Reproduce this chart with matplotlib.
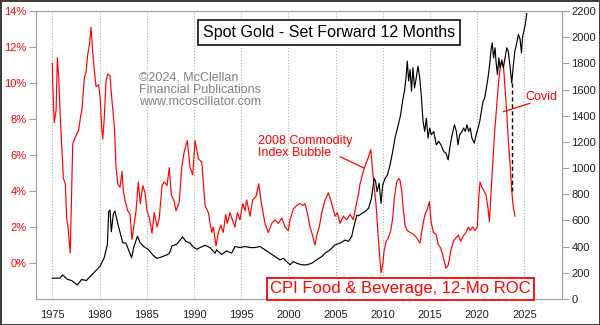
import matplotlib
matplotlib.use("Agg")
import matplotlib.pyplot as plt
import numpy as np

plt.rcParams['font.family'] = ['Liberation Sans', 'DejaVu Sans']

# CPI Food & Beverage, 12-month rate of change (%)
cpi_years = [1975.0, 1975.04, 1975.2, 1975.4, 1975.53, 1975.68, 1975.85, 1976.03, 1976.17, 1976.38,
             1976.52, 1976.66, 1976.9, 1977.0, 1977.16, 1977.44, 1977.8, 1977.97, 1978.15, 1978.4,
             1978.57, 1978.75, 1978.92, 1979.1, 1979.28, 1979.45, 1979.63, 1979.9, 1980.08, 1980.23,
             1980.34, 1980.5, 1980.69, 1980.87, 1981.11, 1981.32, 1981.57, 1981.75, 1981.93, 1982.17,
             1982.38, 1982.52, 1982.73, 1982.99, 1983.23, 1983.44, 1983.62, 1983.87, 1984.11, 1984.32,
             1984.58, 1984.82, 1985.03, 1985.28, 1985.56, 1985.8, 1986.09, 1986.33, 1986.62, 1986.86,
             1987.15, 1987.39, 1987.6, 1987.92, 1988.1, 1988.45, 1988.7, 1988.98, 1989.3, 1989.59,
             1989.87, 1990.12, 1990.47, 1990.83, 1991.18, 1991.53, 1991.88, 1992.06, 1992.34, 1992.59,
             1992.84, 1993.11, 1993.37, 1993.54, 1993.82, 1994.07, 1994.35, 1994.6, 1994.88, 1995.17,
             1995.41, 1995.59, 1995.94, 1996.23, 1996.58, 1996.86, 1997.18, 1997.53, 1997.88, 1998.24,
             1998.59, 1998.94, 1999.3, 1999.65, 2000.0, 2000.18, 2000.53, 2000.89, 2001.24, 2001.53,
             2001.77, 2002.01, 2002.3, 2002.58, 2002.83, 2003.0, 2003.28, 2003.54, 2003.89, 2004.24,
             2004.49, 2004.7, 2004.95, 2005.19, 2005.48, 2005.83, 2006.19, 2006.54, 2006.89, 2007.14,
             2007.42, 2007.6, 2007.95, 2008.23, 2008.47, 2008.73, 2009.0, 2009.29, 2009.53, 2009.82,
             2010.0, 2010.14, 2010.35, 2010.6, 2010.85, 2011.06, 2011.23, 2011.48, 2011.7, 2011.83,
             2012.01, 2012.18, 2012.36, 2012.6, 2012.89, 2013.24, 2013.6, 2013.95, 2014.24, 2014.48,
             2014.73, 2014.94, 2015.12, 2015.36, 2015.65, 2015.89, 2016.14, 2016.42, 2016.7, 2016.95,
             2017.2, 2017.48, 2017.76, 2018.01, 2018.26, 2018.54, 2018.83, 2019.07, 2019.25, 2019.54,
             2019.78, 2020.02, 2020.17, 2020.31, 2020.52, 2020.73, 2020.94, 2021.16, 2021.3, 2021.44,
             2021.65, 2021.86, 2022.08, 2022.25, 2022.43, 2022.61, 2022.78, 2022.96, 2023.14, 2023.31,
             2023.49, 2023.67, 2023.84, 2024.02]
cpi_roc = [11.1, 10.0, 7.8, 8.5, 11.4, 10.3, 8.0, 6.2, 4.7, 4.4,
           2.5, 2.0, 0.55, 2.9, 6.6, 7.0, 7.4, 8.05, 8.6, 10.3,
           10.6, 11.6, 12.1, 13.1, 11.7, 10.7, 9.8, 9.9, 9.1, 7.5,
           6.9, 8.05, 10.1, 10.5, 10.4, 9.0, 7.6, 5.3, 4.4, 4.2,
           5.1, 4.0, 3.4, 2.9, 2.7, 1.3, 2.0, 2.9, 4.5, 3.3,
           4.3, 3.9, 2.9, 2.5, 1.65, 2.8, 2.0, 2.5, 4.3, 4.5,
           4.3, 5.3, 3.8, 3.4, 2.9, 3.4, 5.3, 6.2, 6.8, 5.3,
           4.9, 6.8, 5.8, 5.6, 3.2, 2.8, 1.7, 2.0, 0.95, 1.7,
           2.1, 1.7, 2.7, 2.2, 2.8, 2.4, 2.0, 2.8, 2.4, 3.3,
           2.9, 3.5, 2.6, 3.5, 3.7, 4.4, 3.2, 2.2, 1.7, 2.2,
           2.4, 2.2, 2.5, 2.0, 1.8, 2.4, 3.0, 3.2, 3.3, 3.2,
           3.3, 2.8, 2.0, 1.5, 1.0, 1.5, 2.0, 2.8, 3.5, 3.9,
           3.5, 3.1, 2.6, 2.8, 2.2, 2.6, 2.4, 2.7, 2.4, 3.1,
           3.8, 4.4, 5.1, 5.55, 5.85, 6.3, 4.7, 3.25, 1.4, -0.55,
           -0.1, 0.65, 1.2, 1.4, 1.8, 2.5, 3.6, 4.5, 4.7, 4.6,
           4.0, 3.0, 2.1, 1.8, 1.7, 1.6, 1.4, 1.1, 2.1, 2.7,
           3.0, 3.4, 2.3, 1.7, 1.6, 1.0, 0.85, 0.3, -0.3, -0.1,
           0.65, 1.2, 1.4, 1.55, 1.2, 1.5, 1.7, 2.0, 1.8, 2.0,
           1.8, 2.0, 3.6, 4.5, 4.2, 4.0, 3.8, 3.0, 2.3, 3.6,
           5.5, 7.3, 8.8, 9.9, 10.8, 11.3, 11.0, 9.7, 8.3, 6.8,
           5.5, 4.0, 3.05, 2.6]

# Spot gold ($/oz), shifted forward 12 months
gold_years = [1975.0, 1975.8, 1976.1, 1976.6, 1977.05, 1977.65, 1978.1, 1978.6, 1979.17, 1979.7,
              1980.05, 1980.48, 1980.83, 1980.97, 1981.11, 1981.25, 1981.46, 1981.64, 1981.92, 1982.17,
              1982.46, 1982.8, 1983.16, 1983.4, 1983.6, 1984.02, 1984.3, 1984.7, 1985.17, 1985.6,
              1986.06, 1986.6, 1987.1, 1987.4, 1987.68, 1988.2, 1988.8, 1989.16, 1989.6, 1989.9,
              1990.3, 1990.65, 1991.18, 1991.7, 1992.24, 1992.4, 1992.94, 1993.47, 1994.0, 1994.35,
              1994.88, 1995.41, 1995.94, 1996.47, 1997.0, 1997.53, 1998.06, 1998.59, 1999.12, 1999.47,
              1999.83, 2000.18, 2000.53, 2000.89, 2001.42, 2001.95, 2002.48, 2003.0, 2003.54, 2003.89,
              2004.42, 2004.95, 2005.48, 2006.01, 2006.36, 2006.72, 2006.9, 2007.07, 2007.25, 2007.42,
              2007.8, 2008.1, 2008.5, 2008.8, 2009.1, 2009.25, 2009.4, 2009.62, 2009.82, 2010.0,
              2010.25, 2010.5, 2010.78, 2011.06, 2011.3, 2011.65, 2011.9, 2012.1, 2012.3, 2012.47,
              2012.6, 2012.75, 2012.9, 2013.05, 2013.2, 2013.37, 2013.55, 2013.73, 2013.9, 2014.08,
              2014.27, 2014.45, 2014.62, 2014.8, 2014.97, 2015.15, 2015.4, 2015.68, 2015.93, 2016.17,
              2016.46, 2016.7, 2016.93, 2017.1, 2017.35, 2017.6, 2017.8, 2017.98, 2018.15, 2018.4,
              2018.57, 2018.75, 2018.93, 2019.1, 2019.28, 2019.45, 2019.7, 2019.9, 2020.1, 2020.28,
              2020.45, 2020.63, 2020.8, 2020.98, 2021.15, 2021.33, 2021.5, 2021.6, 2021.75, 2021.9,
              2022.0, 2022.15, 2022.3, 2022.43, 2022.6, 2022.78, 2022.96, 2023.14, 2023.3, 2023.5,
              2023.67, 2023.84, 2024.0, 2024.2, 2024.37, 2024.55, 2024.7, 2024.8, 2024.95, 2025.1,
              2025.26]
gold_price = [159, 159, 184, 150, 141, 107, 149, 141, 184, 222,
              250, 312, 414, 667, 680, 514, 650, 672, 580, 510,
              430, 425, 360, 315, 390, 480, 430, 400, 378, 340,
              310, 322, 336, 348, 405, 420, 474, 440, 427, 400,
              380, 393, 410, 393, 350, 375, 340, 367, 350, 401,
              393, 401, 393, 393, 401, 376, 350, 324, 299, 311,
              286, 261, 286, 273, 261, 261, 273, 299, 324, 350,
              376, 414, 427, 450, 440, 478, 540, 590, 640, 635,
              654, 667, 693, 769, 922, 897, 820, 884, 731, 871,
              922, 948, 1025, 1127, 1229, 1331, 1408, 1510, 1587, 1689,
              1817, 1665, 1753, 1587, 1766, 1612, 1689, 1778, 1702, 1561,
              1357, 1280, 1382, 1229, 1306, 1254, 1280, 1178, 1204, 1178,
              1127, 1114, 1063, 1153, 1254, 1331, 1280, 1178, 1254, 1280,
              1306, 1280, 1331, 1280, 1306, 1229, 1191, 1254, 1306, 1357,
              1434, 1510, 1536, 1612, 1689, 1791, 1919, 1957, 1842, 1919,
              1817, 1715, 1842, 1766, 1817, 1766, 1842, 1919, 1893, 1766,
              1650, 1791, 1893, 1957, 2021, 1983, 1880, 1996, 2047, 2098,
              2180]

year_ticks = list(range(1975, 2030, 5))
pct_ticks = list(range(0, 16, 2))
gold_ticks = list(range(0, 2400, 200))

fig = plt.figure(figsize=(6, 3.25), dpi=100)
fig.patch.set_edgecolor('#404040')
fig.patch.set_linewidth(2)
ax = fig.add_axes([36 / 600, 26 / 325, 525.7 / 600, 288 / 325])
ax2 = ax.twinx()

ax.plot(cpi_years, cpi_roc, color='red', lw=0.85)
ax2.plot(gold_years, gold_price, color='black', lw=0.85)

ax.set_xlim(1973.27, 2028.96)
ax.set_ylim(-2, 14)
ax2.set_ylim(0, 2200)

ax.set_xticks(year_ticks)
ax.set_xticklabels([str(y) for y in year_ticks], fontsize=8, color='#222222')
ax.set_yticks(pct_ticks)
ax.set_yticklabels([f"{p}%" for p in pct_ticks], fontsize=8, color='red')
ax2.set_yticks(gold_ticks)
ax2.set_yticklabels([str(g) for g in gold_ticks], fontsize=8, color='#222222')

ax.xaxis.grid(True, linestyle=':', color='#b0b0b0', lw=0.8)
ax.tick_params(axis='x', length=0, pad=8)
ax.tick_params(axis='y', length=5, color='#a0a0a0', pad=2)
ax2.tick_params(axis='y', length=5, color='#a0a0a0', pad=2)
for a in (ax, ax2):
    for s in a.spines.values():
        s.set_color('#a0a0a0')

# dashed drop line from the Covid-era gold low down to the CPI line
late = [i for i, y in enumerate(gold_years) if y > 2023]
i_low = min(late, key=lambda i: gold_price[i])
x_low = gold_years[i_low]
gold_low = gold_price[i_low]
cpi_at = np.interp(x_low, cpi_years, cpi_roc)
cpi_as_gold = (cpi_at + 2) / 16 * 2200
ax2.plot([x_low, x_low], [gold_low, cpi_as_gold], color='black', lw=1.0, ls=(0, (3, 2)))

# texts
ax2.text(0.557, 0.925, "Spot Gold - Set Forward 12 Months", transform=ax.transAxes,
         ha='center', va='center', fontsize=11.5, color='black', zorder=10,
         bbox=dict(boxstyle='square,pad=0.3', fc='white', ec='#222222', lw=1.3))
ax2.text(0.693, 0.035, "CPI Food & Beverage, 12-Mo ROC", transform=ax.transAxes,
         ha='center', va='center', fontsize=12, color='red', zorder=10,
         bbox=dict(boxstyle='square,pad=0.2', fc='white', ec='red', lw=1.3))
ax2.text(0.196, 0.726, "\u00a92024, McClellan\nFinancial Publications\nwww.mcoscillator.com",
         transform=ax.transAxes, ha='left', va='center', fontsize=9, color='#808080',
         linespacing=1.05)
ax2.text(0.423, 0.528, "2008 Commodity\nIndex Bubble", transform=ax.transAxes,
         ha='left', va='center', fontsize=9, color='red', linespacing=1.05)
ax2.annotate('', xy=(0.6239, 0.4549), xytext=(0.5783, 0.4941), xycoords=ax.transAxes,
             textcoords=ax.transAxes,
             arrowprops=dict(arrowstyle='-', color='red', lw=0.9, shrinkA=0, shrinkB=0))
ax2.text(0.9606, 0.7014, "Covid", transform=ax.transAxes, ha='center', va='center',
         fontsize=9, color='red')
ax2.annotate('', xy=(0.8889, 0.6503), xytext=(0.9397, 0.6795), xycoords=ax.transAxes,
             textcoords=ax.transAxes,
             arrowprops=dict(arrowstyle='-', color='red', lw=0.9, shrinkA=0, shrinkB=0))

fig.savefig("out.png", dpi=100, edgecolor=fig.get_edgecolor())
